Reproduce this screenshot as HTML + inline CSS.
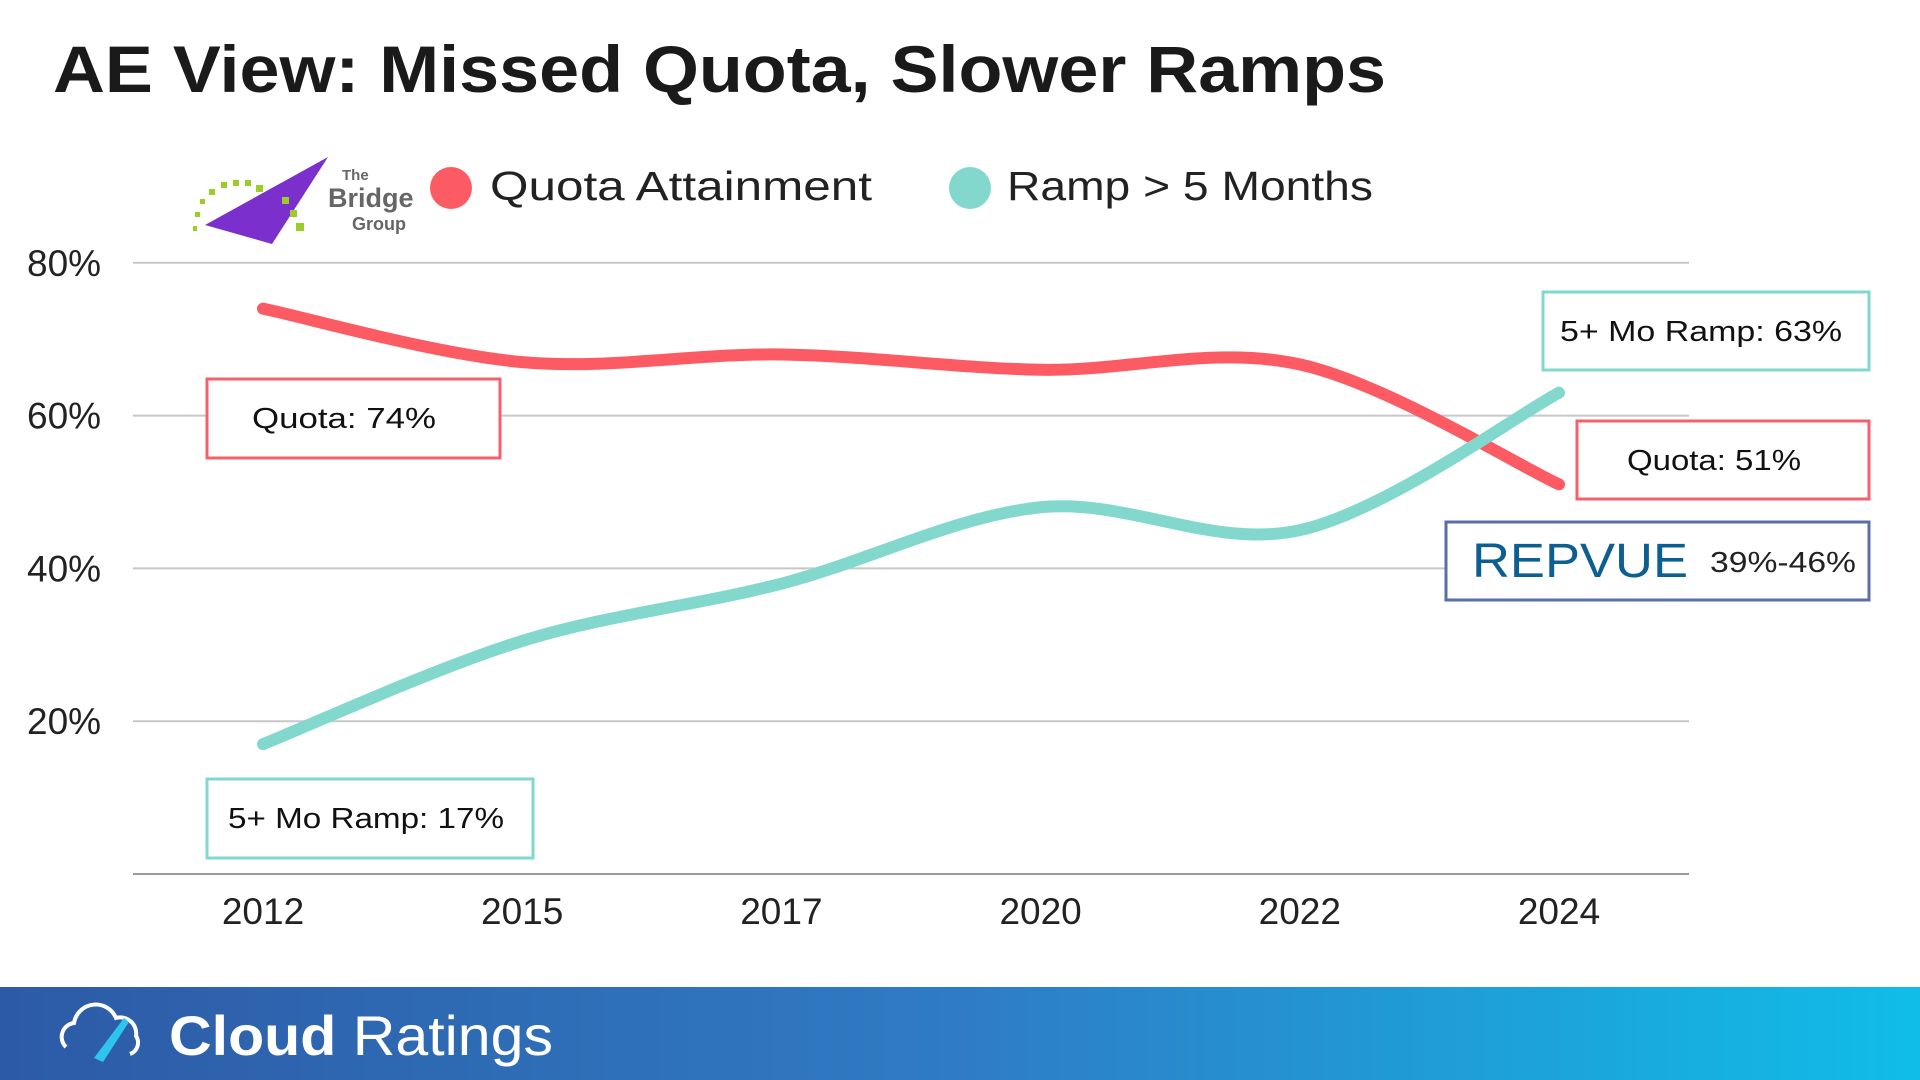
<!DOCTYPE html>
<html><head><meta charset="utf-8"><style>
html,body{margin:0;padding:0;width:1920px;height:1080px;overflow:hidden;background:#fff;font-family:"Liberation Sans",sans-serif;}
svg{display:block}
</style></head><body>
<svg width="1920" height="1080" viewBox="0 0 1920 1080">
<defs>
<linearGradient id="fg" x1="0" y1="0" x2="1" y2="0">
<stop offset="0" stop-color="#2d5aa6"/><stop offset="0.5" stop-color="#2f7cc4"/><stop offset="1" stop-color="#10bde8"/>
</linearGradient>
</defs>
<text x="53" y="92" font-size="66" font-weight="bold" fill="#1a1a1a" textLength="1333" lengthAdjust="spacingAndGlyphs">AE View: Missed Quota, Slower Ramps</text>

<g>
<polygon points="205,225 328,157 272,244" fill="#7b2fcc"/>
<g fill="#9ccc2a">
<rect x="193" y="226" width="4" height="5"/><rect x="195" y="212" width="5" height="5"/><rect x="200" y="199" width="5" height="5"/><rect x="209" y="189" width="6" height="6"/><rect x="221" y="182" width="6" height="6"/><rect x="233" y="180" width="6" height="6"/><rect x="245" y="180" width="6" height="6"/><rect x="256" y="185" width="7" height="7"/><rect x="282" y="197" width="7" height="7"/><rect x="290" y="210" width="7" height="7"/><rect x="296" y="223" width="8" height="8"/>
</g>
<text x="342" y="180" font-size="15" font-weight="bold" fill="#666">The</text>
<text x="328" y="207" font-size="27" font-weight="bold" fill="#666">Bridge</text>
<text x="352" y="230" font-size="18" font-weight="bold" fill="#666">Group</text>
</g>

<g>
<circle cx="451" cy="188" r="21" fill="#fd5b64"/>
<text x="490" y="200" font-size="41" fill="#222" textLength="382" lengthAdjust="spacingAndGlyphs">Quota Attainment</text>
<circle cx="970" cy="188" r="21" fill="#82d8cd"/>
<text x="1007" y="200" font-size="41" fill="#222" textLength="366" lengthAdjust="spacingAndGlyphs">Ramp &gt; 5 Months</text>
</g>

<g id="grid"></g>
<g id="yticks"></g>
<g id="xticks"></g>
<g id="series"></g>

<g>
<rect x="207" y="379" width="293" height="79" fill="#fff" stroke="#f5616a" stroke-width="3"/>
<text x="344" y="428" font-size="29" text-anchor="middle" fill="#111" textLength="184" lengthAdjust="spacingAndGlyphs">Quota: 74%</text>
</g>
<g>
<rect x="207" y="779" width="326" height="79" fill="#fff" stroke="#82d8cd" stroke-width="3"/>
<text x="366" y="828" font-size="29" text-anchor="middle" fill="#111" textLength="276" lengthAdjust="spacingAndGlyphs">5+ Mo Ramp: 17%</text>
</g>
<g>
<rect x="1543" y="292" width="326" height="78" fill="#fff" stroke="#82d8cd" stroke-width="3"/>
<text x="1701" y="341" font-size="29" text-anchor="middle" fill="#111" textLength="282" lengthAdjust="spacingAndGlyphs">5+ Mo Ramp: 63%</text>
</g>
<g>
<rect x="1577" y="421" width="292" height="78" fill="#fff" stroke="#f5616a" stroke-width="3"/>
<text x="1714" y="470" font-size="29" text-anchor="middle" fill="#111" textLength="174" lengthAdjust="spacingAndGlyphs">Quota: 51%</text>
</g>
<g>
<rect x="1446" y="522" width="423" height="78" fill="#fff" stroke="#5a6fa8" stroke-width="3"/>
<text x="1472" y="577" font-size="48" fill="#0d5f92" textLength="216" lengthAdjust="spacingAndGlyphs">REPVUE</text>
<text x="1710" y="572" font-size="29" fill="#222" textLength="146" lengthAdjust="spacingAndGlyphs">39%-46%</text>
</g>

<g>
<rect x="0" y="987" width="1920" height="93" fill="url(#fg)"/>
<path d="M66,1047 a14,14 0 0 1 8,-24 a22,22 0 0 1 42,-5 a16,16 0 0 1 20,18 a12,12 0 0 1 -6,18" fill="none" stroke="#fff" stroke-width="4"/>
<path d="M94,1058 l30,-40 l5,4 l-26,40 z" fill="#2ec4f0"/>
<text x="169" y="1055" font-size="56" fill="#fff" textLength="384" lengthAdjust="spacingAndGlyphs"><tspan font-weight="bold">Cloud</tspan> Ratings</text>
</g>
</svg>
<script>
const categories = ["2012","2015","2017","2020","2022","2024"];
const quotaValues = [74, 67, 68, 66, 66.7, 51];
const rampValues = [17, 30.5, 38, 48, 45, 63];
const yTicks = [20, 40, 60, 80];
const yTickLabels = ["20%","40%","60%","80%"];

const NS = "http://www.w3.org/2000/svg";
const x0 = 263, dx = 259.2, yBase = 874, yPer = 7.64;
function xPos(i){ return x0 + dx*i; }
function yPos(v){ return yBase - v*yPer; }

const grid = document.getElementById('grid');
const yt = document.getElementById('yticks');
yTicks.forEach((t,i)=>{
  const l = document.createElementNS(NS,'line');
  l.setAttribute('x1',133); l.setAttribute('x2',1689);
  l.setAttribute('y1',yPos(t)); l.setAttribute('y2',yPos(t));
  l.setAttribute('stroke','#c8c8c8'); l.setAttribute('stroke-width',2);
  
  
  grid.appendChild(l);
  const tx = document.createElementNS(NS,'text');
  tx.setAttribute('x',27); tx.setAttribute('y',yPos(t)+13);
  tx.setAttribute('font-size',37); tx.setAttribute('fill','#222');
  tx.textContent = yTickLabels[i];
  
  
  yt.appendChild(tx);
});
const ax = document.createElementNS(NS,'line');
ax.setAttribute('x1',133); ax.setAttribute('x2',1689);
ax.setAttribute('y1',yBase); ax.setAttribute('y2',yBase);
ax.setAttribute('stroke','#999'); ax.setAttribute('stroke-width',2);


grid.appendChild(ax);

const xt = document.getElementById('xticks');
categories.forEach((c,i)=>{
  const tx = document.createElementNS(NS,'text');
  tx.setAttribute('x',xPos(i)); tx.setAttribute('y',924);
  tx.setAttribute('font-size',37); tx.setAttribute('fill','#222');
  tx.setAttribute('text-anchor','middle');
  tx.textContent = c;
  
  
  xt.appendChild(tx);
});

function smoothPath(vals){
  const p = vals.map((v,i)=>[xPos(i), yPos(v)]);
  let d = "M"+p[0][0]+","+p[0][1];
  for(let i=0;i<p.length-1;i++){
    const a=p[Math.max(i-1,0)], b=p[i], c=p[i+1], e=p[Math.min(i+2,p.length-1)];
    const k=1/6;
    const c1=[b[0]+(c[0]-a[0])*k, b[1]+(c[1]-a[1])*k];
    const c2=[c[0]-(e[0]-b[0])*k, c[1]-(e[1]-b[1])*k];
    d += " C"+c1[0]+","+c1[1]+" "+c2[0]+","+c2[1]+" "+c[0]+","+c[1];
  }
  return d;
}
const series = document.getElementById('series');
const pq = document.createElementNS(NS,'path');
pq.setAttribute('d', smoothPath(quotaValues));
pq.setAttribute('fill','none'); pq.setAttribute('stroke','#fd5b64');
pq.setAttribute('stroke-width',12); pq.setAttribute('stroke-linecap','round');


series.appendChild(pq);
const pr = document.createElementNS(NS,'path');
pr.setAttribute('d', smoothPath(rampValues));
pr.setAttribute('fill','none'); pr.setAttribute('stroke','#82d8cd');
pr.setAttribute('stroke-width',12); pr.setAttribute('stroke-linecap','round');


series.appendChild(pr);
</script>
</body></html>
